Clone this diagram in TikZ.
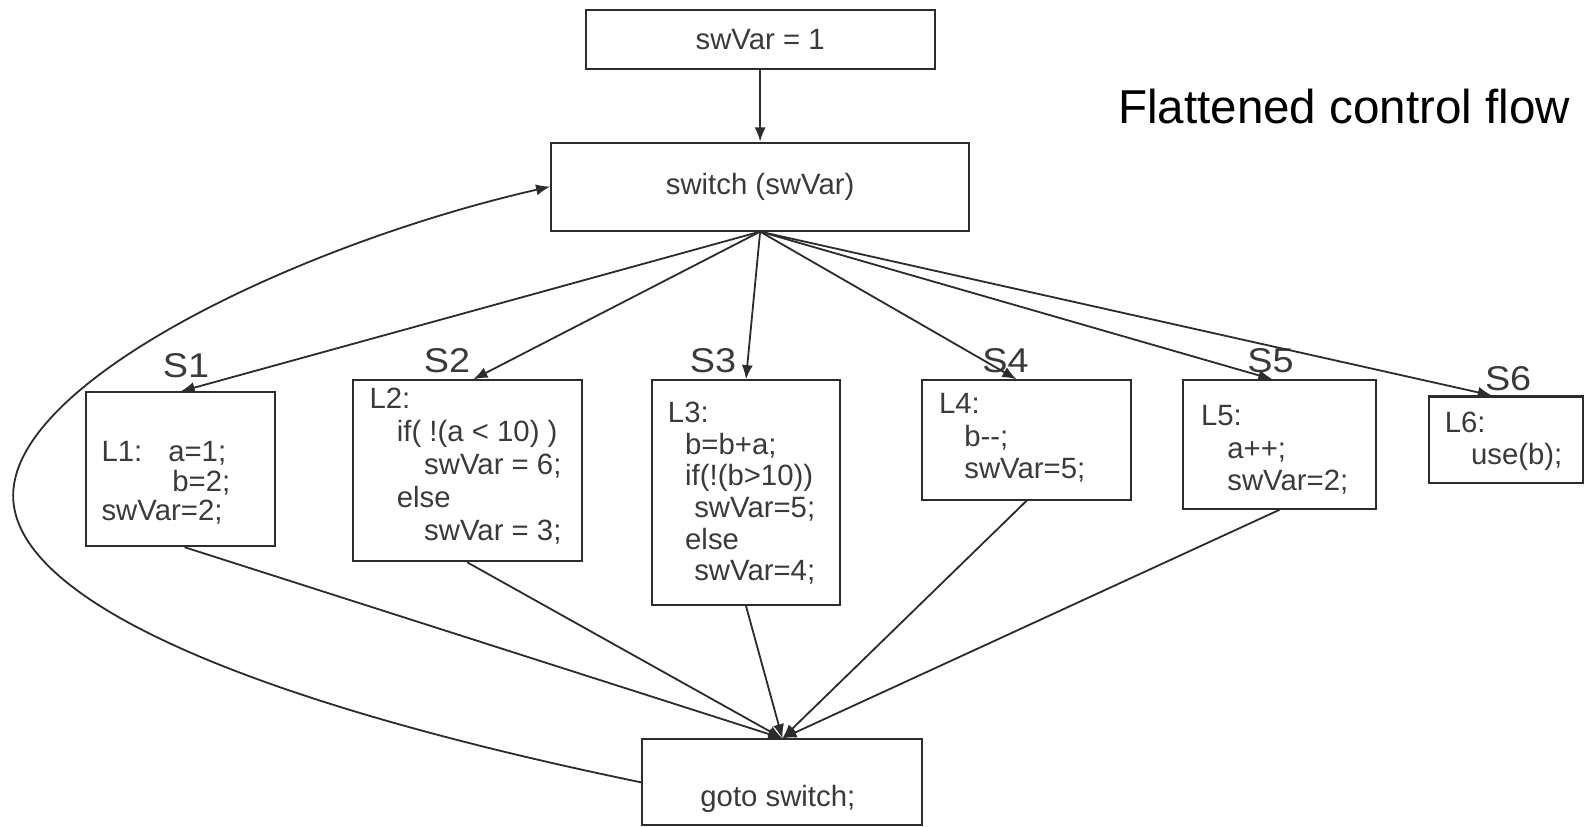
\documentclass[tikz,border=0pt]{standalone}
\usepackage{fontspec}
\usepackage{graphicx}
\setmainfont{Liberation Sans}
\usetikzlibrary{arrows.meta}
\definecolor{ink}{HTML}{2C2C2C}
\definecolor{txt}{HTML}{3A3A3A}
% a block of code lines; #1 is the line pitch
\newcommand\codelines[2]{{\fontsize{14.5}{#1}\selectfont\begin{tabular}[t]{@{}l@{}}#2\end{tabular}}}
% case label, set slightly wide
\newcommand\caselabel[1]{\scalebox{1.1}[1]{#1}}
\begin{document}
\begin{tikzpicture}[x=0.5pt, y=-0.5pt,
  box/.style={draw=ink, line width=1pt, inner sep=0pt, text=txt, font=\fontsize{14.5}{17}\selectfont},
  code/.style={text=txt, inner sep=0pt, anchor=base west},
  tag/.style={text=txt, inner sep=0pt, anchor=base, font=\fontsize{17}{20}\selectfont},
  edge/.style={draw=ink, line width=0.9pt, -{Latex[length=7pt,width=5.5pt]}},
]
\useasboundingbox (0,0) rectangle (1568,817);

% blocks
\node[box, minimum width=172.5pt, minimum height=29pt] (init) at (751.5,39) {swVar = 1};
\node[box, minimum width=206.5pt, minimum height=43.5pt] (sw) at (751.5,184.5) {switch (swVar)};
\node[box, minimum width=93.5pt, minimum height=76pt] (b1) at (178.5,464) {};
\node[box, minimum width=113pt, minimum height=89.5pt] (b2) at (462,465.5) {};
\node[box, minimum width=92.5pt, minimum height=111pt] (b3) at (737.5,487) {};
\node[box, minimum width=103pt, minimum height=59pt] (b4) at (1015,435) {};
\node[box, minimum width=95pt, minimum height=63.5pt] (b5) at (1265,439.5) {};
\node[box, minimum width=76pt, minimum height=43pt] (b6) at (1489,435) {};
\node[box, minimum width=138.5pt, minimum height=42.5pt] (gt) at (773.5,773.5) {};
\node[text=txt, font=\fontsize{14.5}{17}\selectfont, inner sep=0pt] (gtx) at (769,790) {goto switch;};

% block contents
\node[code] (c1) at (100,456) {\codelines{14.25pt}{\makebox[33pt][l]{L1:}a=1;\\ \hspace*{35pt}b=2;\\ swVar=2;}};
\node[code] (c2) at (365,404) {\codelines{16.3pt}{L2:\\ \hspace*{13.5pt}if( !(a < 10) )\\ \hspace*{27pt}swVar = 6;\\ \hspace*{13.5pt}else\\ \hspace*{27pt}swVar = 3;}};
\node[code] (c3) at (660,418) {\codelines{15.6pt}{L3:\\ \hspace*{8.5pt}b=b+a;\\ \hspace*{8.5pt}if(!(b>10))\\ \hspace*{13pt}swVar=5;\\ \hspace*{8.5pt}else\\ \hspace*{13pt}swVar=4;}};
\node[code] (c4) at (928,409) {\codelines{16pt}{L4:\\ \hspace*{12.5pt}b-{}-;\\ \hspace*{12.5pt}swVar=5;}};
\node[code] (c5) at (1187,421) {\codelines{16pt}{L5:\\ \hspace*{13pt}a++;\\ \hspace*{13pt}swVar=2;}};
\node[code] (c6) at (1428,428) {\codelines{15.5pt}{L6:\\ \hspace*{13pt}use(b);}};

% case labels
\node[tag] (s1) at (184,373) {\caselabel{S1}};
\node[tag] (s2) at (442,368) {\caselabel{S2}};
\node[tag] (s3) at (705,368) {\caselabel{S3}};
\node[tag] (s4) at (994,368) {\caselabel{S4}};
\node[tag] (s5) at (1256,368) {\caselabel{S5}};
\node[tag] (s6) at (1491,386) {\caselabel{S6}};

% title
\node[anchor=base west, inner sep=0pt, font=\fontsize{23.5}{28}\selectfont] (title) at (1105,122) {Flattened control flow};

% edges
\draw[edge] (init.south) -- (sw.north);
\draw[edge] (sw.south) -- (b1.north);
\draw[edge] (sw.south) -- ([xshift=3pt]b2.north);
\draw[edge] (sw.south) -- (b3.north);
\draw[edge] (sw.south) -- ([xshift=-5pt]b4.north);
\draw[edge] (sw.south) -- ([xshift=-3.5pt]b5.north);
\draw[edge] (sw.south) -- ([xshift=-7pt]b6.north);

\draw[edge] ([xshift=2pt]b1.south) -- (gt.north);
\draw[edge] (b2.south) -- (gt.north);
\draw[edge] (b3.south) -- (gt.north);
\draw[edge] (b4.south) -- (gt.north);
\draw[edge] (b5.south) -- (gt.north);

% loop back to the dispatcher
\draw[edge] (gt.west) .. controls (230,690) and (13,590) .. (13,490)
  .. controls (13,375) and (300,240) .. (sw.west);
\end{tikzpicture}
\end{document}
